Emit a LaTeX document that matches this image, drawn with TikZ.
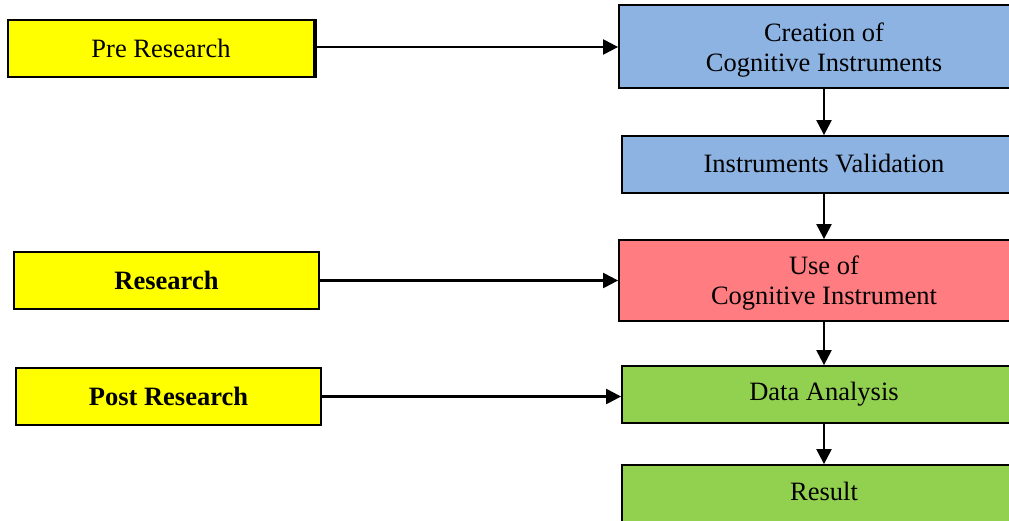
\documentclass[tikz,border=0pt]{standalone}
\usepackage{fontspec}
\setmainfont{Liberation Serif}
\usetikzlibrary{arrows.meta}
\definecolor{ylw}{HTML}{FFFF00}
\definecolor{blu}{HTML}{8DB3E2}
\definecolor{rd}{HTML}{FF7C80}
\definecolor{grn}{HTML}{92D050}
\tikzset{
  box/.style={draw=black, line width=1.8pt, inner sep=0pt, align=center,
    font=\fontsize{26.5}{30}\selectfont},
  leftbox/.style={box, fill=ylw, minimum width=305pt, minimum height=57pt},
  rightbox/.style={box, minimum width=404pt, minimum height=57pt},
  conn/.style={line width=2.2pt, -{Triangle[length=15pt,width=15pt]}}
}
\begin{document}
\begin{tikzpicture}[x=1pt,y=-1pt]
\useasboundingbox (0,0) rectangle (1009,520);
\fill[white] (0,0) rectangle (1009,520);
% left boxes
\node[leftbox, minimum width=306pt] (pre) at (161,48.5) {Pre Research};
\draw[line width=2pt] ([xshift=1.2pt]pre.north east) -- ([xshift=1.2pt]pre.south east);
\node[leftbox] (res) at (166.5,280.5) {\bfseries Research};
\node[leftbox] (post) at (168.5,396.5) {\bfseries Post Research};
% right boxes
\node[rightbox, fill=blu, minimum width=410pt, minimum height=83pt] (crea) at (824,46.5) {};
\node (creatext) at ([yshift=-4pt]crea.center) [align=center, font=\fontsize{26.5}{30}\selectfont] {Creation of\\Cognitive Instruments};
\node[rightbox, fill=blu] (val) at (824,164.5) {\raisebox{2pt}{Instruments Validation}};
\node[rightbox, fill=rd, minimum width=410pt, minimum height=81pt] (use) at (824,280.5) {};
\node (usetext) at ([yshift=-2.5pt]use.center) [align=center, font=\fontsize{26.5}{30}\selectfont] {Use of\\Cognitive Instrument};
\node[rightbox, fill=grn] (data) at (824,394.5) {Data Analysis};
\node[rightbox, fill=grn] (result) at (824,493.5) {\raisebox{3.5pt}{Result}};
% connectors
\draw[conn] (pre.east |- 0,47) -- (crea.west |- 0,47);
\draw[conn] (res.east) -- (use.west);
\draw[conn] (post.east) -- (post.east -| data.west);
\draw[conn] (crea) -- (val);
\draw[conn] (val) -- (use);
\draw[conn] (use) -- (data);
\draw[conn] (data) -- (result);
\end{tikzpicture}
\end{document}
